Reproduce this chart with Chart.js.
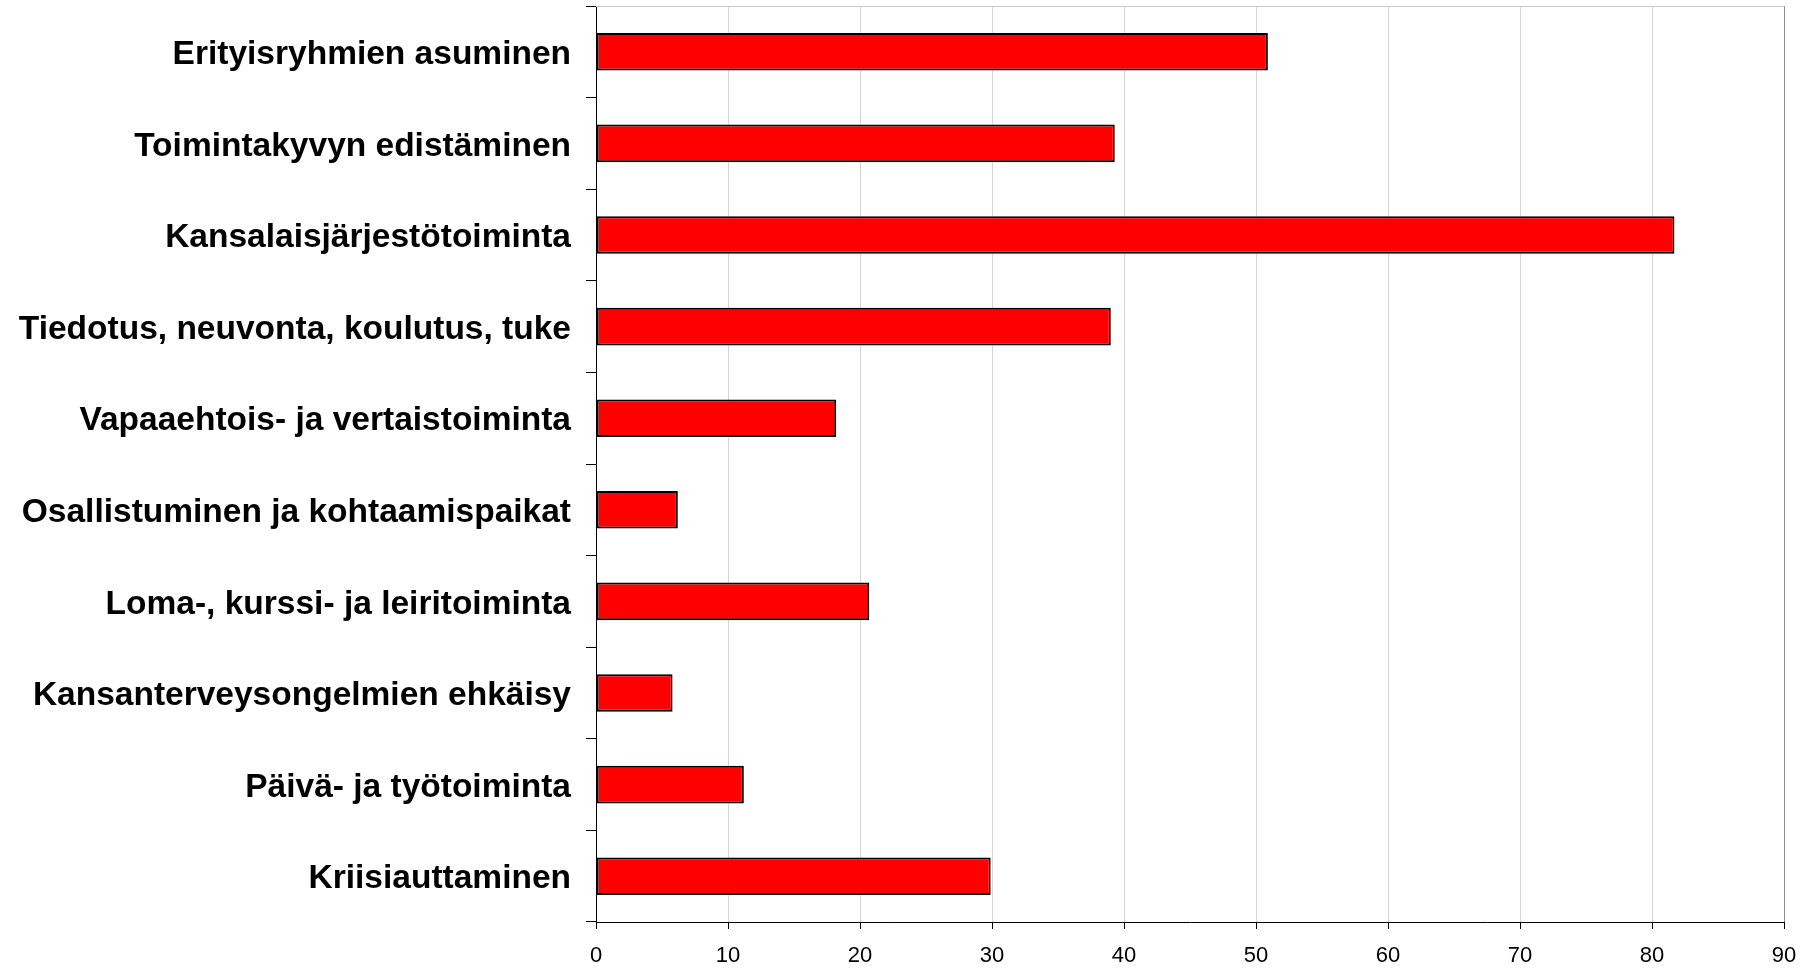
<!DOCTYPE html>
<html>
<head>
<meta charset="utf-8">
<script src="https://cdn.jsdelivr.net/npm/chart.js@4.4.0/dist/chart.umd.min.js"></script>
<style>
  html, body { margin: 0; padding: 0; background: #fff; }
  #wrap { width: 1808px; height: 970px; }
</style>
</head>
<body>
<div id="wrap"><canvas id="chartBar" width="1808" height="970"></canvas></div>
<script>
// data
const categories = [
  "Erityisryhmien asuminen",
  "Toimintakyvyn edistäminen",
  "Kansalaisjärjestötoiminta",
  "Tiedotus, neuvonta, koulutus, tuke",
  "Vapaaehtois- ja vertaistoiminta",
  "Osallistuminen ja kohtaamispaikat",
  "Loma-, kurssi- ja leiritoiminta",
  "Kansanterveysongelmien ehkäisy",
  "Päivä- ja työtoiminta",
  "Kriisiauttaminen"
];
const values = [50.9, 39.3, 81.7, 39.0, 18.2, 6.2, 20.7, 5.8, 11.2, 29.9];
const xTicks = [0, 10, 20, 30, 40, 50, 60, 70, 80, 90];

// top border of the plot
const topLine = {
  id: 'topLine',
  afterDraw(chart) {
    const a = chart.chartArea, ctx = chart.ctx;
    ctx.save();
    ctx.strokeStyle = '#c8c8c8';
    ctx.lineWidth = 1;
    ctx.beginPath();
    ctx.moveTo(a.left, a.top + 0.5);
    ctx.lineTo(a.right, a.top + 0.5);
    ctx.stroke();
    // small tick at top left
    ctx.strokeStyle = '#000';
    ctx.beginPath();
    ctx.moveTo(a.left - 10, a.top + 0.5);
    ctx.lineTo(a.left, a.top + 0.5);
    ctx.stroke();
    ctx.restore();
  }
};

new Chart(document.getElementById("chartBar"), {
  type: "bar",
  data: {
    labels: categories,
    datasets: [{
      data: values,
      backgroundColor: "#ff0000",
      borderColor: "#000",
      borderWidth: 2,
      borderSkipped: false,
      barPercentage: 0.41,
      categoryPercentage: 1
    }]
  },
  options: {
    indexAxis: 'y',
    responsive: false,
    animation: false,
    layout: { padding: { top: 6, right: 24, left: 0, bottom: 0 } },
    plugins: { legend: { display: false }, tooltip: { enabled: false } },
    scales: {
      x: {
        min: 0, max: 90,
        afterBuildTicks: s => { s.ticks = xTicks.map(v => ({ value: v })); },
        afterFit: s => { s.height = 48; s.paddingLeft = 0; s.paddingRight = 0; },
        border: { color: '#000', width: 1 },
        grid: {
          color: ctx => (ctx.tick && ctx.tick.value === 90) ? '#8c8c8c' : '#d4d4d4',
          tickColor: '#000',
          tickLength: 7
        },
        ticks: {
          color: '#000',
          padding: 14,
          maxRotation: 0,
          font: { family: 'Liberation Sans, Arial', size: 22 }
        }
      },
      y: {
        afterFit: s => { s.width = 596; s.paddingTop = 0; s.paddingBottom = 0; },
        border: { color: '#000', width: 1 },
        grid: {
          drawOnChartArea: false,
          color: '#000',
          tickColor: '#000',
          tickLength: 10
        },
        ticks: {
          color: '#000',
          padding: 15,
          labelOffset: 3,
          font: { family: 'Liberation Sans, Arial', size: 33.5, weight: 'bold' }
        }
      }
    }
  },
  plugins: [topLine]
});
</script>
</body>
</html>
